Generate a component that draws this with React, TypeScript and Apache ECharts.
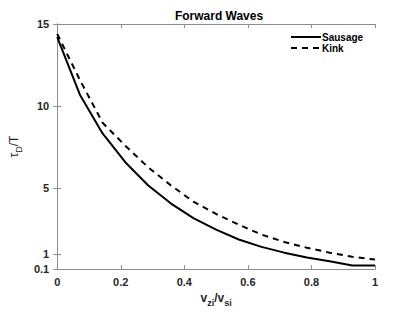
import React, { useEffect, useRef } from "react";
import * as echarts from "echarts";

const xValues = [0, 1 / 14, 2 / 14, 3 / 14, 4 / 14, 5 / 14, 6 / 14, 7 / 14, 8 / 14, 9 / 14, 10 / 14, 11 / 14, 12 / 14, 13 / 14, 1];
const sausage = [14.2, 10.7, 8.35, 6.6, 5.2, 4.1, 3.2, 2.5, 1.9, 1.45, 1.1, 0.8, 0.58, 0.32, 0.32];
const kink = [14.4, 11.6, 9.0, 7.6, 6.3, 5.2, 4.2, 3.45, 2.8, 2.2, 1.75, 1.4, 1.1, 0.85, 0.68];
const yTicks = [0.1, 1, 5, 10, 15];
const xTicks = [0, 0.2, 0.4, 0.6, 0.8, 1];

const FONT = "Liberation Sans, Arial, sans-serif";
const AXIS_COLOR = "#8c8c8c";
const TEXT_COLOR = "#262626";

export default function App() {
  const ref = useRef<HTMLDivElement>(null);
  useEffect(() => {
    if (!ref.current) return;
    const chart = echarts.init(ref.current, undefined, { renderer: "svg" });
    const pairs = (ys: number[]) => xValues.map((x, i) => [x, ys[i]]);
    const lineAxis = { show: true, lineStyle: { color: AXIS_COLOR, width: 1 } };
    chart.setOption({
      animation: false,
      backgroundColor: "#fff",
      textStyle: { fontFamily: FONT },
      title: {
        text: "Forward Waves",
        left: 214,
        textAlign: "center",
        top: 5,
        textStyle: { fontFamily: FONT, fontSize: 12, fontWeight: "bold", color: "#000" },
      },
      legend: {
        orient: "vertical",
        left: 290,
        top: 32,
        padding: 0,
        itemGap: 1,
        itemWidth: 30,
        itemHeight: 11,
        itemStyle: { color: "rgba(0,0,0,0)", borderWidth: 0, opacity: 0 },
        textStyle: { fontFamily: FONT, fontSize: 10, fontWeight: "bold", color: "#000", padding: [0, 0, 0, -4] },
        data: ["Sausage", "Kink"],
      },
      grid: { left: 53, right: 40, top: 24, bottom: 36, containLabel: false },
      xAxis: [
        {
          type: "value",
          min: 0,
          max: 1,
          interval: 0.2,
          position: "bottom",
          axisLine: lineAxis,
          axisTick: { show: true, inside: true, length: 4, lineStyle: { color: AXIS_COLOR } },
          splitLine: { show: false },
          axisLabel: {
            fontFamily: FONT,
            fontSize: 11,
            fontWeight: "bold",
            color: TEXT_COLOR,
            margin: 7,
            formatter: (v: number) => (xTicks.some((t) => Math.abs(t - v) < 1e-9) ? String(+v.toFixed(1)) : ""),
          },
          name: "{a|v}{b|zi}{a|/v}{b|si}",
          nameLocation: "middle",
          nameGap: 17,
          nameTextStyle: {
            rich: {
              a: { fontFamily: FONT, fontSize: 12, fontWeight: "bold", color: TEXT_COLOR },
              b: { fontFamily: FONT, fontSize: 9, fontWeight: "bold", color: TEXT_COLOR, padding: [9, 0, 0, 0] },
            },
          },
        },
        {
          type: "value",
          min: 0,
          max: 1,
          interval: 0.2,
          position: "top",
          axisLine: lineAxis,
          axisTick: { show: true, inside: true, length: 4, lineStyle: { color: AXIS_COLOR } },
          axisLabel: { show: false },
          splitLine: { show: false },
        },
      ],
      yAxis: [
        {
          type: "value",
          min: 0.1,
          max: 15,
          position: "left",
          axisLine: lineAxis,
          axisTick: { show: true, inside: true, length: 4, customValues: yTicks, lineStyle: { color: AXIS_COLOR } },
          splitLine: { show: false },
          axisLabel: {
            fontFamily: FONT,
            fontSize: 11,
            fontWeight: "bold",
            color: TEXT_COLOR,
            margin: 8,
            customValues: yTicks,
            formatter: (v: number) => String(v),
          },
          name: "{a|τ}{b|D}{a|/T}",
          nameLocation: "middle",
          nameGap: 26,
          nameRotate: 90,
          nameTextStyle: {
            rich: {
              a: { fontFamily: FONT, fontSize: 12, color: TEXT_COLOR },
              b: { fontFamily: FONT, fontSize: 9, color: TEXT_COLOR, padding: [9, 0, 0, 0] },
            },
          },
        },
        {
          type: "value",
          min: 0.1,
          max: 15,
          position: "right",
          axisLine: lineAxis,
          axisTick: { show: true, inside: true, length: 4, customValues: yTicks, lineStyle: { color: AXIS_COLOR } },
          axisLabel: { show: false },
          splitLine: { show: false },
        },
      ],
      series: [
        {
          name: "Sausage",
          type: "line",
          data: pairs(sausage),
          symbol: "none",
          lineStyle: { color: "#000", width: 2, type: "solid" },
          itemStyle: { color: "#000" },
        },
        {
          name: "Kink",
          type: "line",
          data: pairs(kink),
          symbol: "none",
          lineStyle: { color: "#000", width: 2, type: [6, 5] },
          itemStyle: { color: "#000" },
        },
      ],
    });
    return () => chart.dispose();
  }, []);
  return <div ref={ref} style={{ width: 415, height: 312, position: "absolute", left: 0, top: 0 }} />;
}
